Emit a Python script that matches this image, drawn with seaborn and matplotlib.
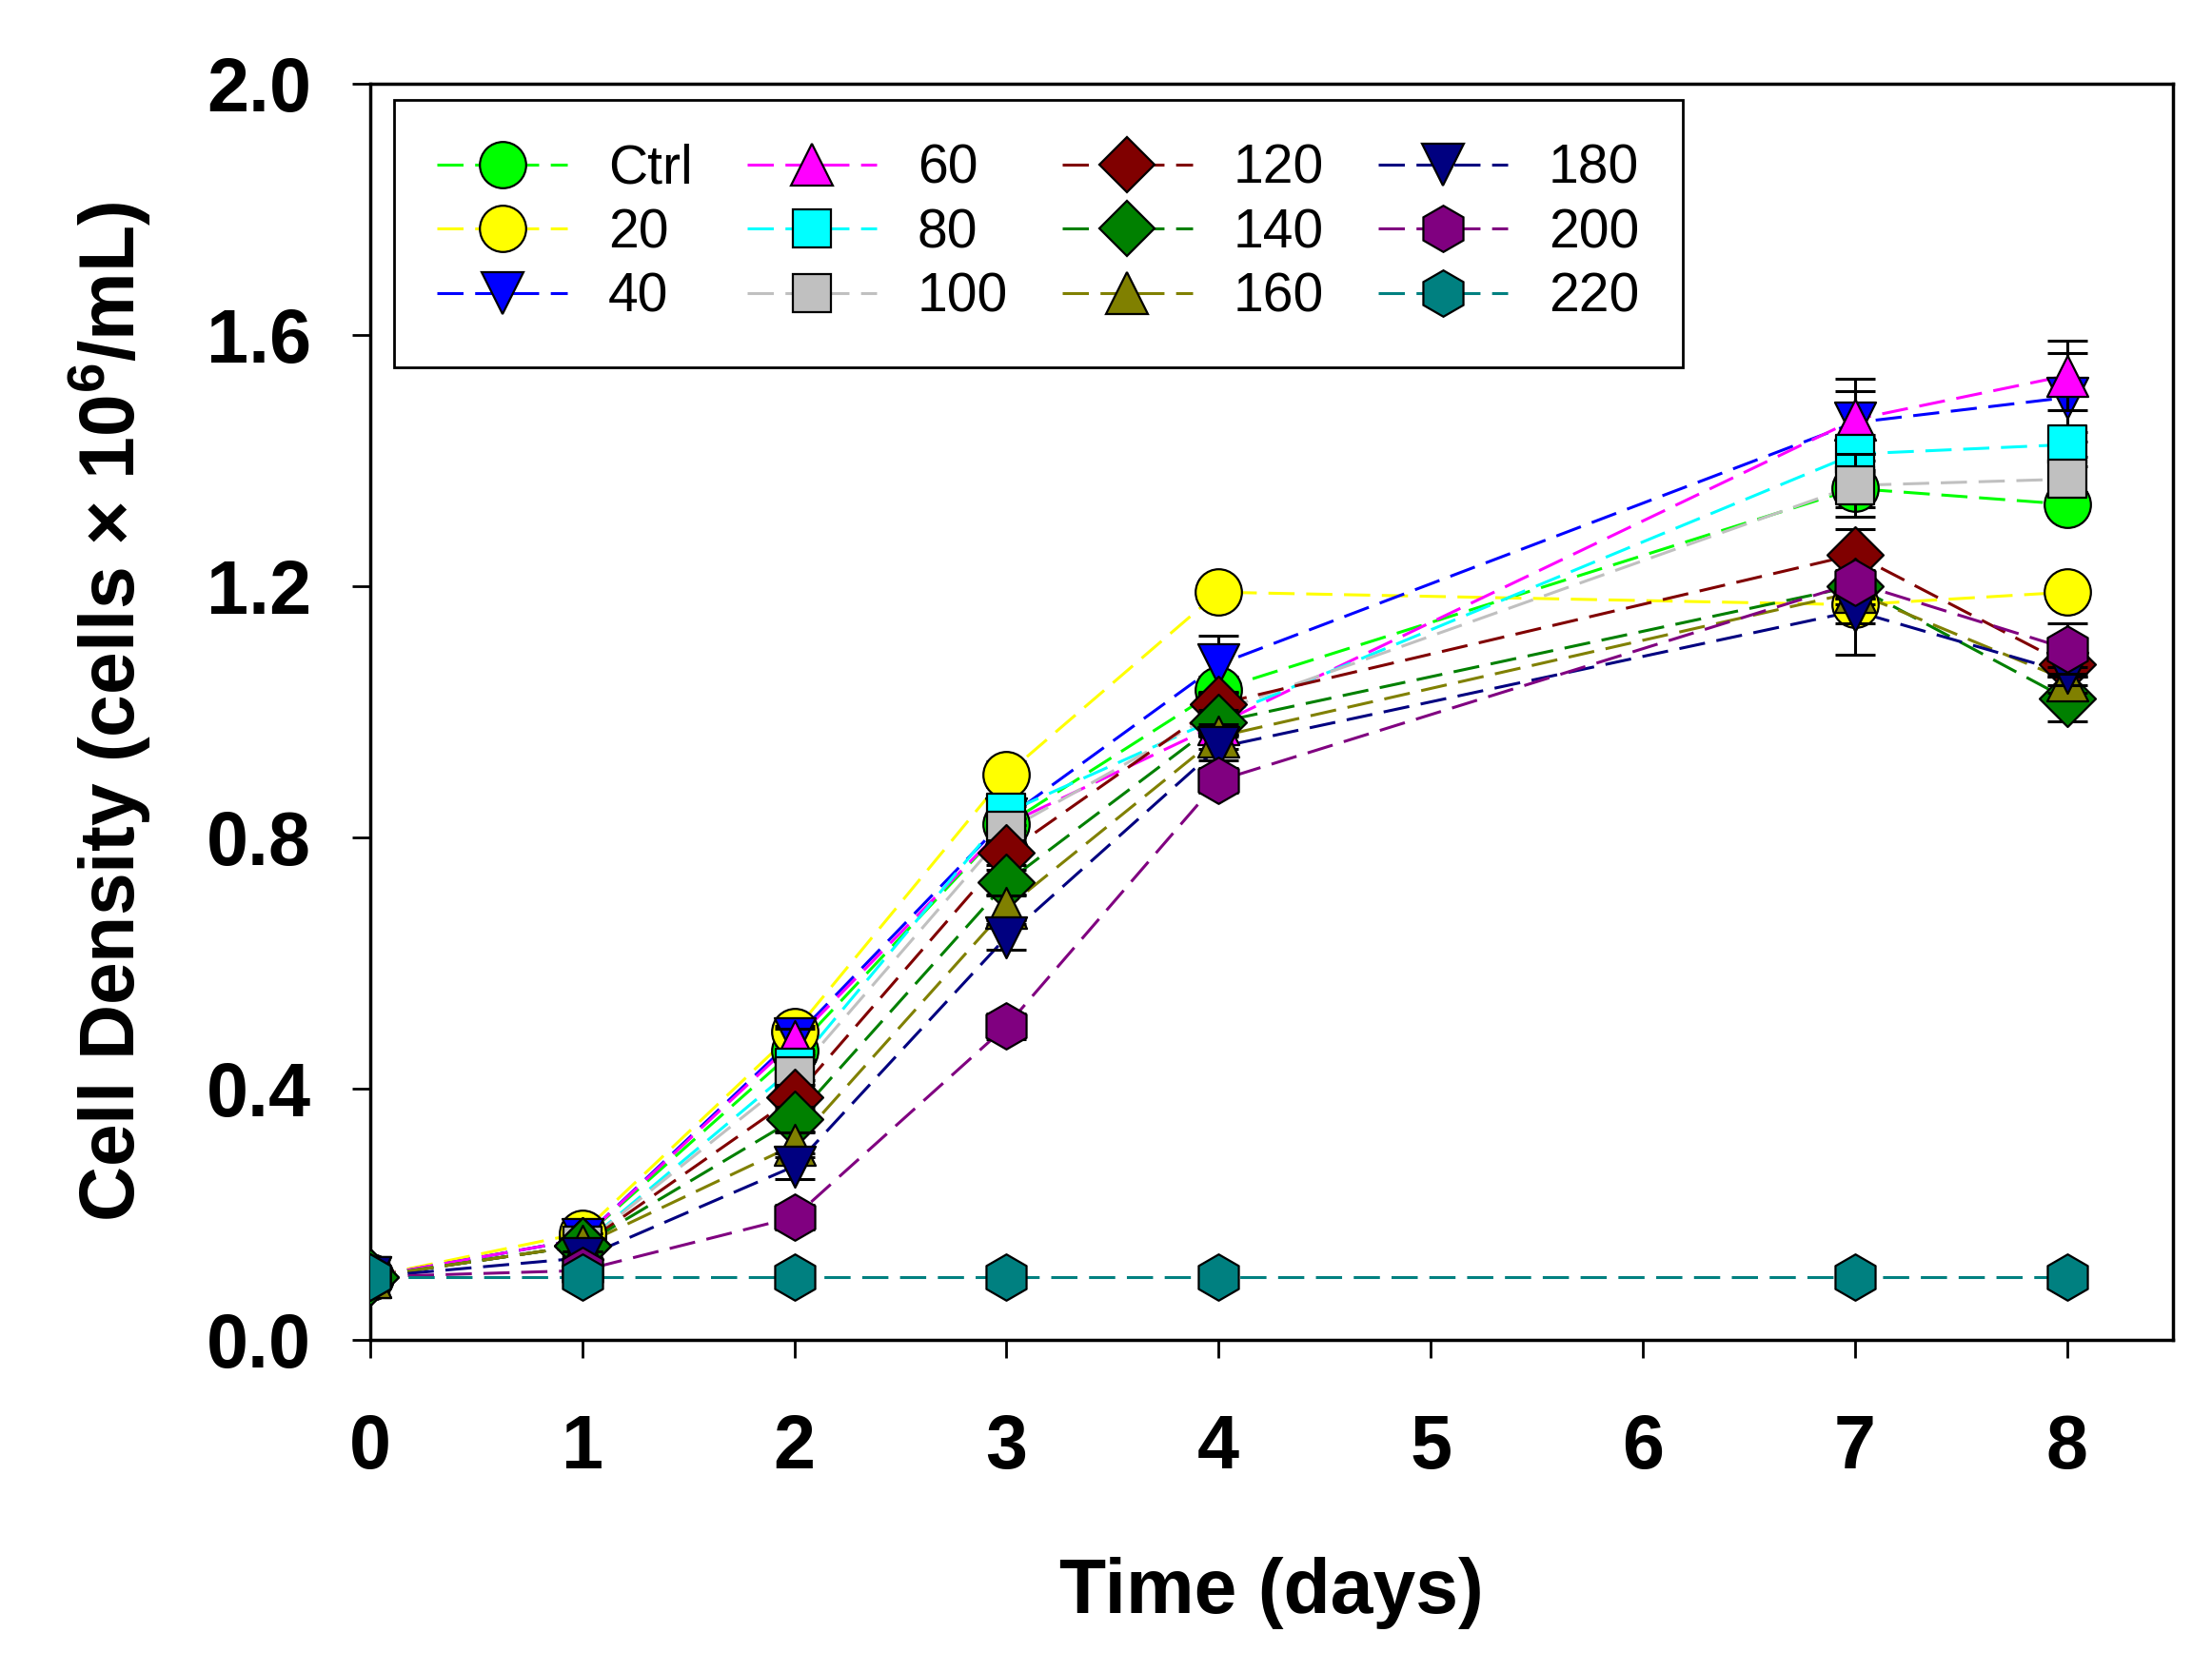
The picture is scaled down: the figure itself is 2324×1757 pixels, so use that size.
import matplotlib

matplotlib.use("Agg")

import matplotlib.pyplot as plt
import seaborn as sns
from matplotlib.lines import Line2D

DAYS = [0, 1, 2, 3, 4, 7, 8]

GROUPS = ["Ctrl", "20", "40", "60", "80", "100", "120", "140", "160", "180", "200", "220"]

CTRL = [0.10, 0.16, 0.46, 0.82, 1.035, 1.355, 1.33]
C20 = [0.10, 0.17, 0.49, 0.90, 1.19, 1.17, 1.19]
C40 = [0.10, 0.16, 0.48, 0.83, 1.075, 1.46, 1.50]
C60 = [0.10, 0.16, 0.475, 0.82, 0.98, 1.465, 1.535]
C80 = [0.10, 0.15, 0.433, 0.839, 0.99, 1.41, 1.425]
C100 = [0.10, 0.15, 0.42, 0.81, 1.00, 1.36, 1.37]
C120 = [0.10, 0.15, 0.386, 0.775, 1.012, 1.25, 1.075]
C140 = [0.10, 0.15, 0.351, 0.728, 0.983, 1.20, 1.02]
C160 = [0.10, 0.15, 0.31, 0.687, 0.96, 1.19, 1.05]
C180 = [0.10, 0.13, 0.276, 0.641, 0.943, 1.16, 1.062]
C200 = [0.10, 0.11, 0.195, 0.499, 0.89, 1.205, 1.10]
C220 = [0.10, 0.10, 0.10, 0.10, 0.10, 0.10, 0.10]

ERR_CTRL = [0.005, 0.01, 0.02, 0.02, 0.02, 0.03, 0.02]
ERR_20 = [0.005, 0.01, 0.02, 0.02, 0.02, 0.08, 0.02]
ERR_40 = [0.005, 0.01, 0.02, 0.02, 0.045, 0.05, 0.07]
ERR_60 = [0.005, 0.01, 0.02, 0.02, 0.02, 0.065, 0.055]
ERR_80 = [0.005, 0.01, 0.02, 0.02, 0.02, 0.03, 0.02]
ERR_100 = [0.005, 0.01, 0.02, 0.02, 0.02, 0.05, 0.02]
ERR_120 = [0.005, 0.01, 0.02, 0.02, 0.02, 0.04, 0.02]
ERR_140 = [0.005, 0.01, 0.02, 0.02, 0.02, 0.02, 0.035]
ERR_160 = [0.005, 0.01, 0.02, 0.02, 0.02, 0.02, 0.02]
ERR_180 = [0.005, 0.01, 0.02, 0.02, 0.02, 0.02, 0.02]
ERR_200 = [0.005, 0.01, 0.02, 0.02, 0.02, 0.02, 0.04]
ERR_220 = [0.0, 0.0, 0.0, 0.0, 0.0, 0.0, 0.0]

VALUES = [CTRL, C20, C40, C60, C80, C100, C120, C140, C160, C180, C200, C220]
ERRORS = [ERR_CTRL, ERR_20, ERR_40, ERR_60, ERR_80, ERR_100,
          ERR_120, ERR_140, ERR_160, ERR_180, ERR_200, ERR_220]

COLORS = ["#00ff00", "#ffff00", "#0000ff", "#ff00ff", "#00ffff", "#c0c0c0",
          "#800000", "#008000", "#808000", "#000080", "#800080", "#008080"]
MARKERS = ["o", "o", "v", "^", "s", "s", "D", "D", "^", "v", "h", "h"]
# marker size in points, per marker shape
MSIZE = {"o": 35, "v": 31, "^": 31, "s": 29, "D": 30, "h": 35}

sns.set_theme(style="ticks")
plt.rcParams["font.family"] = ["Liberation Sans", "DejaVu Sans"]
plt.rcParams["mathtext.fontset"] = "custom"
plt.rcParams["mathtext.rm"] = "Liberation Sans"
plt.rcParams["mathtext.bf"] = "Liberation Sans:bold"
plt.rcParams["text.color"] = "black"
plt.rcParams["axes.labelcolor"] = "black"
plt.rcParams["xtick.color"] = "black"
plt.rcParams["ytick.color"] = "black"

fig = plt.figure(figsize=(23.24, 17.57), dpi=100)
ax = fig.add_axes([0.1673, 0.1988, 0.8151, 0.7513])

dash = (0, (9, 4))
handles = []
for i, (name, vals, errs, color, marker) in enumerate(zip(GROUPS, VALUES, ERRORS, COLORS, MARKERS)):
    sns.lineplot(x=DAYS, y=vals, ax=ax, color=color, linewidth=2.2,
                 linestyle=dash, zorder=2, estimator=None, sort=False)
    ax.errorbar(DAYS, vals, yerr=errs, fmt="none", ecolor="black",
                elinewidth=2.2, capsize=14.8, capthick=2.2, zorder=3 + i * 0.1)
    sns.scatterplot(x=DAYS, y=vals, ax=ax, marker=marker, s=MSIZE[marker] ** 2,
                    color=color, edgecolor="black", linewidth=1.6,
                    zorder=3.05 + i * 0.1, legend=False)
    handles.append(Line2D([], [], color=color, linewidth=2.2, linestyle=dash,
                          marker=marker, markersize=MSIZE[marker],
                          markerfacecolor=color, markeredgecolor="black",
                          markeredgewidth=1.6, label=name))

ax.set_xlim(0, 8.5)
ax.set_ylim(0, 2.0)
ax.set_xticks([0, 1, 2, 3, 4, 5, 6, 7, 8])
ax.set_yticks([0.0, 0.4, 0.8, 1.2, 1.6, 2.0])
ax.set_yticklabels(["0.0", "0.4", "0.8", "1.2", "1.6", "2.0"])

for spine in ax.spines.values():
    spine.set_visible(True)
    spine.set_linewidth(2.5)
    spine.set_color("black")

ax.tick_params(axis="both", direction="out", length=13.5, width=2, color="black",
               labelcolor="black", labelsize=57)
ax.tick_params(axis="x", pad=42)
ax.tick_params(axis="y", pad=31)
for lab in ax.get_xticklabels() + ax.get_yticklabels():
    lab.set_fontweight("bold")

ax.set_xlabel("Time (days)", fontsize=58, fontweight="bold", labelpad=55, color="black")
ax.set_ylabel(r"Cell Density (cells × 10$^{\mathbf{6}}$/mL)", fontsize=58,
              fontweight="bold", labelpad=40, color="black")

leg = fig.legend(handles=handles, loc="upper left", bbox_to_anchor=(0.1781, 0.9402),
                 ncol=4, fontsize=41, frameon=True, fancybox=False, framealpha=1,
                 edgecolor="black", handlelength=2.4, handletextpad=0.75,
                 columnspacing=1.0, labelspacing=0.24, borderpad=0.8,
                 borderaxespad=0, numpoints=1)
leg.get_frame().set_linewidth(2)
for txt in leg.get_texts():
    txt.set_color("black")

fig.savefig("out.png", dpi=100)
plt.close(fig)
